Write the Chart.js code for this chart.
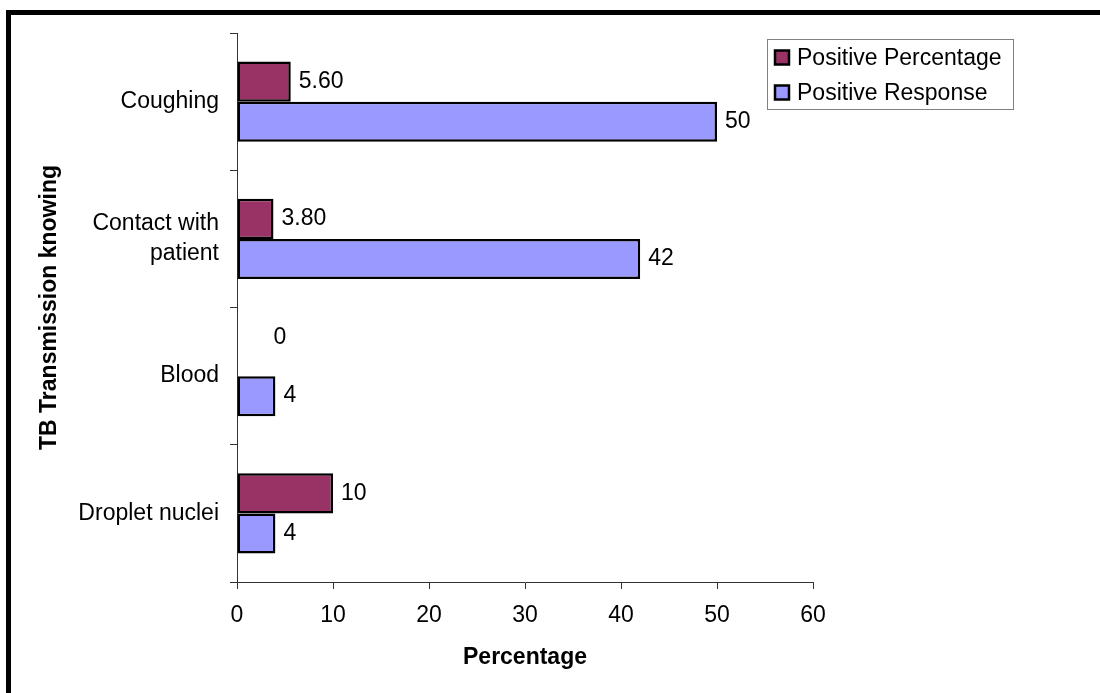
<!DOCTYPE html>
<html>
<head>
<meta charset="utf-8">
<script src="https://cdn.jsdelivr.net/npm/chart.js@4.4.1/dist/chart.umd.min.js"></script>
<style>
  html, body { margin: 0; padding: 0; background: #fff; }
  #wrap { width: 1100px; height: 693px; position: relative; }
</style>
</head>
<body>
<div id="wrap"><canvas id="chart" width="1100" height="693"></canvas></div>
<script>
// Ways of TB transmission known by respondents
const categories = [['Coughing'], ['Contact with', 'patient'], ['Blood'], ['Droplet nuclei']];
const positivePercentage = [5.6, 3.8, 0, 10];
const positiveResponse = [50, 42, 4, 4];
const xTicks = [0, 10, 20, 30, 40, 50, 60];

const FONT = '"Liberation Sans", Arial, sans-serif';
const FONT_SIZE = 23;

function formatValue(v) {
  return Number.isInteger(v) ? String(v) : v.toFixed(2);
}

// Outer frame (top and left edges)
const framePlugin = {
  id: 'frame',
  beforeDraw(chart) {
    const ctx = chart.ctx;
    ctx.save();
    ctx.fillStyle = '#fff';
    ctx.fillRect(0, 0, chart.width, chart.height);
    ctx.fillStyle = '#000';
    ctx.fillRect(6, 10, chart.width - 6, 5);
    ctx.fillRect(6, 10, 5, chart.height - 10);
    ctx.restore();
  }
};

// Value labels at the end of each bar
const valueLabels = {
  id: 'valueLabels',
  afterDatasetsDraw(chart) {
    const ctx = chart.ctx;
    ctx.save();
    ctx.font = FONT_SIZE + 'px ' + FONT;
    ctx.fillStyle = '#000';
    ctx.textBaseline = 'middle';
    chart.data.datasets.forEach((ds, di) => {
      const meta = chart.getDatasetMeta(di);
      meta.data.forEach((bar, i) => {
        const v = ds.data[i];
        const txt = formatValue(v);
        if (v === 0) {
          ctx.textAlign = 'center';
          ctx.fillText(txt, bar.x + 43, bar.y - 18);
        } else {
          ctx.textAlign = 'left';
          ctx.fillText(txt, bar.x + 8, bar.y);
        }
      });
    });
    ctx.restore();
  }
};

// Boxed legend in the upper right
const boxLegend = {
  id: 'boxLegend',
  afterDraw(chart) {
    const ctx = chart.ctx;
    const x = 767, y = 39, w = 246, h = 70;
    ctx.save();
    ctx.fillStyle = '#fff';
    ctx.fillRect(x, y, w, h);
    ctx.strokeStyle = '#808080';
    ctx.lineWidth = 1;
    ctx.strokeRect(x + 0.5, y + 0.5, w, h);
    ctx.font = FONT_SIZE + 'px ' + FONT;
    ctx.textBaseline = 'middle';
    ctx.textAlign = 'left';
    chart.data.datasets.forEach((ds, i) => {
      const cy = 57.5 + i * 35;
      ctx.fillStyle = ds.backgroundColor;
      ctx.fillRect(775, cy - 7, 14, 14);
      ctx.strokeStyle = '#000';
      ctx.lineWidth = 2.5;
      ctx.strokeRect(775, cy - 7, 14, 14);
      ctx.fillStyle = '#000';
      ctx.fillText(ds.label, 797, cy + 1);
    });
    ctx.restore();
  }
};

new Chart(document.getElementById('chart'), {
  type: 'bar',
  data: {
    labels: categories,
    datasets: [
      {
        label: 'Positive Percentage',
        data: positivePercentage,
        backgroundColor: '#993366',
        borderColor: '#000',
        borderWidth: 2.5,
        borderSkipped: false
      },
      {
        label: 'Positive Response',
        data: positiveResponse,
        backgroundColor: '#9999FF',
        borderColor: '#000',
        borderWidth: 2.5,
        borderSkipped: false
      }
    ]
  },
  options: {
    indexAxis: 'y',
    responsive: false,
    animation: false,
    devicePixelRatio: 1,
    layout: { padding: { top: 33, right: 287, left: 0, bottom: 0 } },
    datasets: { bar: { categoryPercentage: 0.583, barPercentage: 1 } },
    plugins: {
      legend: { display: false },
      tooltip: { enabled: false }
    },
    scales: {
      x: {
        min: 0,
        max: 60,
        afterBuildTicks(scale) { scale.ticks = xTicks.map(v => ({ value: v })); },
        afterFit(scale) { scale.height = 111; },
        grid: { drawOnChartArea: false, drawTicks: true, tickLength: 7, color: '#333' },
        border: { color: '#333', width: 1 },
        ticks: { color: '#000', padding: 13, font: { family: FONT, size: FONT_SIZE }, maxRotation: 0 },
        title: {
          display: true,
          text: 'Percentage',
          color: '#000',
          font: { family: FONT, size: FONT_SIZE, weight: 'bold' },
          padding: { top: 0, bottom: 22 }
        }
      },
      y: {
        afterFit(scale) { scale.width = 237; },
        grid: { drawOnChartArea: false, drawTicks: true, tickLength: 7, color: '#333', offset: true },
        border: { color: '#333', width: 1 },
        ticks: { color: '#000', padding: 11, font: { family: FONT, size: FONT_SIZE, lineHeight: 1.3 } },
        title: {
          display: true,
          text: 'TB Transmission knowing',
          color: '#000',
          font: { family: FONT, size: FONT_SIZE, weight: 'bold' },
          padding: { top: 36, bottom: 0 }
        }
      }
    }
  },
  plugins: [framePlugin, valueLabels, boxLegend]
});
</script>
</body>
</html>
